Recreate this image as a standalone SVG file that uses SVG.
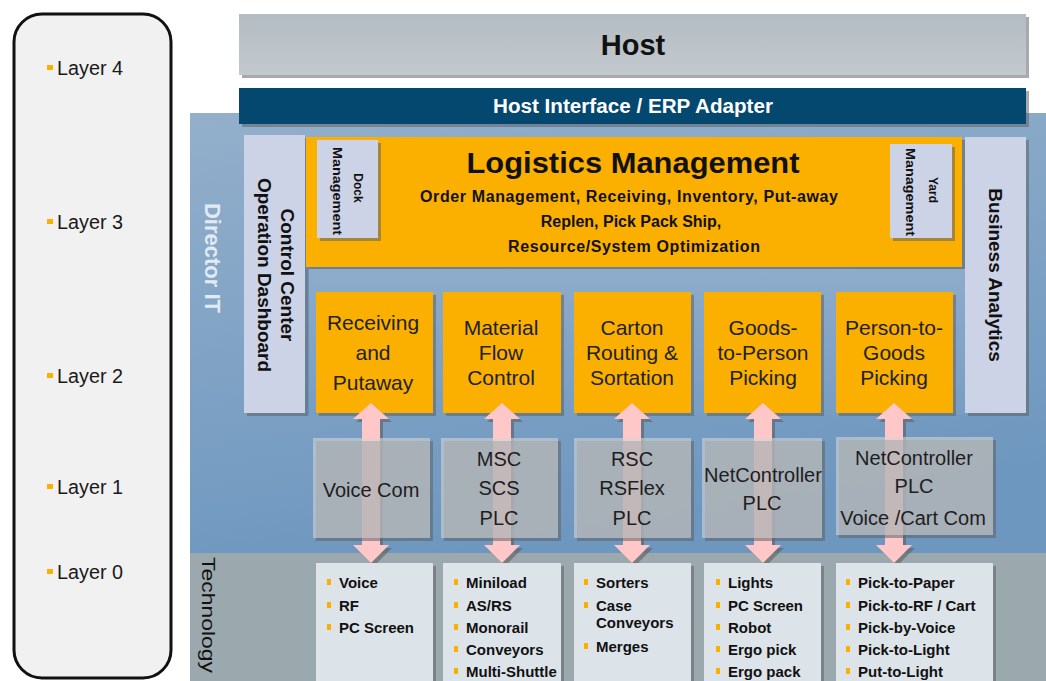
<svg xmlns="http://www.w3.org/2000/svg" width="1046" height="681" viewBox="0 0 1046 681">
<defs>
<linearGradient id="gHost" x1="0" y1="0" x2="0" y2="1"><stop offset="0" stop-color="#b3bcc2"/><stop offset="1" stop-color="#c3c9ce"/></linearGradient>
<linearGradient id="gBlue" x1="0" y1="0" x2="0.3" y2="1"><stop offset="0" stop-color="#93afcb"/><stop offset="1" stop-color="#6e97bf"/></linearGradient>
<linearGradient id="gPanel" x1="0" y1="0" x2="0" y2="1"><stop offset="0" stop-color="#8eabca"/><stop offset="1" stop-color="#789dc3"/></linearGradient>
</defs>
<style>
text{font-family:"Liberation Sans",Arial,Helvetica,sans-serif;}
.sh{fill:#5e6266;opacity:.55;}
.orange{fill:#fbb000;}
.lav{fill:#cdd3e6;}
.gbox{fill:#d4d4d4;opacity:.6;}
.tbox{fill:#dde4e9;}
.arrow{fill:#ffc7c7;}
.ash{fill:#5a5a5a;opacity:.55;}
.bul{fill:#fbb000;}
.lyr{font-size:20px;fill:#1a1a1a;}
.ot{font-size:21px;fill:#222;text-anchor:middle;}
.gt{font-size:20px;fill:#1e1e1e;text-anchor:middle;}
.tt{font-size:15px;font-weight:bold;fill:#111;}
.sub{font-size:16px;font-weight:bold;fill:#111;text-anchor:middle;}
.rot{font-weight:bold;fill:#111;text-anchor:middle;}
</style>

<g id="layers">
<rect x="14" y="14" width="157" height="664" rx="28" ry="28" fill="#f1f1f1" stroke="#111" stroke-width="3"/>
<rect class="bul" x="47" y="65" width="6" height="5"/><text class="lyr" x="57" y="75" textLength="66" lengthAdjust="spacingAndGlyphs">Layer 4</text>
<rect class="bul" x="47" y="219" width="6" height="5"/><text class="lyr" x="57" y="229" textLength="66" lengthAdjust="spacingAndGlyphs">Layer 3</text>
<rect class="bul" x="47" y="373" width="6" height="5"/><text class="lyr" x="57" y="383" textLength="66" lengthAdjust="spacingAndGlyphs">Layer 2</text>
<rect class="bul" x="47" y="484" width="6" height="5"/><text class="lyr" x="57" y="494" textLength="66" lengthAdjust="spacingAndGlyphs">Layer 1</text>
<rect class="bul" x="47" y="569" width="6" height="5"/><text class="lyr" x="57" y="579" textLength="66" lengthAdjust="spacingAndGlyphs">Layer 0</text>
</g>

<g id="director-it">
<rect x="190" y="113" width="856" height="441" fill="url(#gBlue)"/>
<text transform="translate(205,258) rotate(90)" font-size="22" font-weight="bold" fill="#e2eaf4" text-anchor="middle">Director IT</text>
</g>

<g id="technology">
<rect x="190" y="553" width="856" height="128" fill="#9ba8ae"/>
<text transform="translate(202,615) rotate(90)" font-size="18" fill="#111" text-anchor="middle" textLength="116" lengthAdjust="spacingAndGlyphs">Technology</text>
</g>

<g id="host">
<rect class="sh" x="242" y="17" width="787" height="61"/>
<rect x="239" y="14" width="787" height="61" fill="url(#gHost)"/>
<text x="633" y="55" font-size="29" font-weight="bold" fill="#111" text-anchor="middle">Host</text>
</g>

<g id="host-interface">
<rect class="sh" x="242" y="91" width="787" height="36"/>
<rect x="239" y="88" width="787" height="36" fill="#04486f"/>
<text x="633" y="113" font-size="20" font-weight="bold" fill="#fff" text-anchor="middle" textLength="280" lengthAdjust="spacingAndGlyphs">Host Interface / ERP Adapter</text>
</g>

<g id="control-center">
<rect class="sh" x="247" y="138" width="61" height="278"/>
<rect class="lav" x="244" y="135" width="61" height="278"/>
<text class="rot" font-size="19" transform="translate(281,275) rotate(90)">Control Center</text>
<text class="rot" font-size="19" transform="translate(258,275) rotate(90)">Operation Dashboard</text>
</g>

<g id="business-analytics">
<rect class="sh" x="968" y="140" width="61" height="276"/>
<rect class="lav" x="965" y="137" width="61" height="276"/>
<text class="rot" font-size="19" transform="translate(989,275) rotate(90)">Business Analytics</text>
</g>

<g id="logistics-management">
<rect class="sh" x="309" y="140" width="656" height="130"/>
<rect class="orange" x="306" y="137" width="656" height="130"/>
<text x="633" y="173" font-size="30" font-weight="bold" fill="#111" text-anchor="middle" textLength="333" lengthAdjust="spacingAndGlyphs">Logistics Management</text>
<text class="sub" x="629" y="202" textLength="418" lengthAdjust="spacing">Order Management,  Receiving,  Inventory,  Put-away</text>
<text class="sub" x="631" y="227">Replen,  Pick Pack  Ship,</text>
<text class="sub" x="634" y="252" textLength="252" lengthAdjust="spacing">Resource/System  Optimization</text>
</g>

<g id="inner-panel">
<rect x="306" y="267" width="659" height="148" fill="#5f7f9f" opacity=".5"/>
<rect x="309" y="269" width="656" height="146" fill="url(#gPanel)"/>
</g>

<g id="dock-management">
<rect class="sh" x="320" y="143" width="61" height="98"/>
<rect class="lav" x="317" y="140" width="61" height="98"/>
<text class="rot" font-size="12" transform="translate(354,188) rotate(90)">Dock</text>
<text class="rot" font-size="12" transform="translate(333,191) rotate(90)" textLength="88" lengthAdjust="spacingAndGlyphs">Management</text>
</g>

<g id="yard-management">
<rect class="sh" x="893" y="147" width="62" height="94"/>
<rect class="lav" x="890" y="144" width="62" height="94"/>
<text class="rot" font-size="12" transform="translate(929,190) rotate(90)">Yard</text>
<text class="rot" font-size="12" transform="translate(906,192) rotate(90)" textLength="88" lengthAdjust="spacingAndGlyphs">Management</text>
</g>

<g id="receiving-putaway">
<rect class="sh" x="319" y="295" width="117" height="121"/>
<rect class="orange" x="316" y="292" width="117" height="121"/>
<text class="ot" x="373" y="330">Receiving</text>
<text class="ot" x="373" y="360">and</text>
<text class="ot" x="373" y="390">Putaway</text>
</g>
<g id="material-flow-control">
<rect class="sh" x="446" y="295" width="118" height="121"/>
<rect class="orange" x="443" y="292" width="118" height="121"/>
<text class="ot" x="501" y="335">Material</text>
<text class="ot" x="501" y="360">Flow</text>
<text class="ot" x="501" y="385">Control</text>
</g>
<g id="carton-routing">
<rect class="sh" x="577" y="295" width="117" height="121"/>
<rect class="orange" x="574" y="292" width="117" height="121"/>
<text class="ot" x="632" y="335">Carton</text>
<text class="ot" x="632" y="360">Routing &amp;</text>
<text class="ot" x="632" y="385">Sortation</text>
</g>
<g id="goods-to-person">
<rect class="sh" x="707" y="295" width="117" height="121"/>
<rect class="orange" x="704" y="292" width="117" height="121"/>
<text class="ot" x="763" y="335">Goods-</text>
<text class="ot" x="763" y="360">to-Person</text>
<text class="ot" x="763" y="385">Picking</text>
</g>
<g id="person-to-goods">
<rect class="sh" x="839" y="295" width="117" height="121"/>
<rect class="orange" x="836" y="292" width="117" height="121"/>
<text class="ot" x="894" y="335">Person-to-</text>
<text class="ot" x="894" y="360">Goods</text>
<text class="ot" x="894" y="385">Picking</text>
</g>

<g id="connectors">
<path class="ash" transform="translate(374,406)" d="M0,0 L18,16 L9,16 L9,142 L18,142 L0,160 L-18,142 L-9,142 L-9,16 L-18,16 Z"/>
<path class="arrow" transform="translate(371,403)" d="M0,0 L18,16 L9,16 L9,142 L18,142 L0,160 L-18,142 L-9,142 L-9,16 L-18,16 Z"/>
<path class="ash" transform="translate(505,406)" d="M0,0 L18,16 L9,16 L9,142 L18,142 L0,160 L-18,142 L-9,142 L-9,16 L-18,16 Z"/>
<path class="arrow" transform="translate(502,403)" d="M0,0 L18,16 L9,16 L9,142 L18,142 L0,160 L-18,142 L-9,142 L-9,16 L-18,16 Z"/>
<path class="ash" transform="translate(635,406)" d="M0,0 L18,16 L9,16 L9,142 L18,142 L0,160 L-18,142 L-9,142 L-9,16 L-18,16 Z"/>
<path class="arrow" transform="translate(632,403)" d="M0,0 L18,16 L9,16 L9,142 L18,142 L0,160 L-18,142 L-9,142 L-9,16 L-18,16 Z"/>
<path class="ash" transform="translate(766,406)" d="M0,0 L18,16 L9,16 L9,142 L18,142 L0,160 L-18,142 L-9,142 L-9,16 L-18,16 Z"/>
<path class="arrow" transform="translate(763,403)" d="M0,0 L18,16 L9,16 L9,142 L18,142 L0,160 L-18,142 L-9,142 L-9,16 L-18,16 Z"/>
<path class="ash" transform="translate(897,406)" d="M0,0 L18,16 L9,16 L9,142 L18,142 L0,160 L-18,142 L-9,142 L-9,16 L-18,16 Z"/>
<path class="arrow" transform="translate(894,403)" d="M0,0 L18,16 L9,16 L9,142 L18,142 L0,160 L-18,142 L-9,142 L-9,16 L-18,16 Z"/>
</g>

<g id="voice-com">
<rect class="sh" x="316" y="441" width="117" height="100" opacity=".25"/>
<rect class="gbox" x="313" y="438" width="117" height="100"/>
<text class="gt" x="371" y="497">Voice Com</text>
</g>
<g id="msc-scs-plc">
<rect class="sh" x="444" y="441" width="117" height="100" opacity=".25"/>
<rect class="gbox" x="441" y="438" width="117" height="100"/>
<text class="gt" x="499" y="466">MSC</text>
<text class="gt" x="499" y="495">SCS</text>
<text class="gt" x="499" y="525">PLC</text>
</g>
<g id="rsc-rsflex-plc">
<rect class="sh" x="577" y="441" width="117" height="100" opacity=".25"/>
<rect class="gbox" x="574" y="438" width="117" height="100"/>
<text class="gt" x="632" y="466">RSC</text>
<text class="gt" x="632" y="495">RSFlex</text>
<text class="gt" x="632" y="525">PLC</text>
</g>
<g id="netcontroller-plc">
<rect class="sh" x="705" y="441" width="120" height="100" opacity=".25"/>
<rect class="gbox" x="702" y="438" width="120" height="100"/>
<text class="gt" x="763" y="482">NetController</text>
<text class="gt" x="762" y="510">PLC</text>
</g>
<g id="netcontroller-voice-cart">
<rect class="sh" x="839" y="440" width="157" height="98" opacity=".25"/>
<rect class="gbox" x="836" y="437" width="157" height="98"/>
<text class="gt" x="914" y="465">NetController</text>
<text class="gt" x="914" y="493">PLC</text>
<text class="gt" x="913" y="525">Voice /Cart Com</text>
</g>

<g id="tech-voice">
<rect class="sh" x="319" y="566" width="117" height="120"/>
<rect class="tbox" x="316" y="563" width="117" height="120"/>
<rect class="bul" x="327" y="579" width="4" height="6"/><text class="tt" x="339" y="588">Voice</text>
<rect class="bul" x="327" y="602" width="4" height="6"/><text class="tt" x="339" y="611">RF</text>
<rect class="bul" x="327" y="624" width="4" height="6"/><text class="tt" x="339" y="633">PC Screen</text>
</g>
<g id="tech-storage">
<rect class="sh" x="446" y="566" width="118" height="120"/>
<rect class="tbox" x="443" y="563" width="118" height="120"/>
<rect class="bul" x="454" y="579" width="4" height="6"/><text class="tt" x="466" y="588">Miniload</text>
<rect class="bul" x="454" y="602" width="4" height="6"/><text class="tt" x="466" y="611">AS/RS</text>
<rect class="bul" x="454" y="624" width="4" height="6"/><text class="tt" x="466" y="633">Monorail</text>
<rect class="bul" x="454" y="646" width="4" height="6"/><text class="tt" x="466" y="655">Conveyors</text>
<rect class="bul" x="454" y="668" width="4" height="6"/><text class="tt" x="466" y="677">Multi-Shuttle</text>
</g>
<g id="tech-sorters">
<rect class="sh" x="577" y="566" width="117" height="120"/>
<rect class="tbox" x="574" y="563" width="117" height="120"/>
<rect class="bul" x="584" y="579" width="4" height="6"/><text class="tt" x="596" y="588">Sorters</text>
<rect class="bul" x="584" y="602" width="4" height="6"/><text class="tt" x="596" y="611">Case</text>
<text class="tt" x="596" y="628">Conveyors</text>
<rect class="bul" x="584" y="643" width="4" height="6"/><text class="tt" x="596" y="652">Merges</text>
</g>
<g id="tech-lights">
<rect class="sh" x="707" y="566" width="117" height="120"/>
<rect class="tbox" x="704" y="563" width="117" height="120"/>
<rect class="bul" x="716" y="579" width="4" height="6"/><text class="tt" x="728" y="588">Lights</text>
<rect class="bul" x="716" y="602" width="4" height="6"/><text class="tt" x="728" y="611">PC Screen</text>
<rect class="bul" x="716" y="624" width="4" height="6"/><text class="tt" x="728" y="633">Robot</text>
<rect class="bul" x="716" y="646" width="4" height="6"/><text class="tt" x="728" y="655">Ergo pick</text>
<rect class="bul" x="716" y="668" width="4" height="6"/><text class="tt" x="728" y="677">Ergo pack</text>
</g>
<g id="tech-picking">
<rect class="sh" x="839" y="566" width="157" height="120"/>
<rect class="tbox" x="836" y="563" width="157" height="120"/>
<rect class="bul" x="846" y="579" width="4" height="6"/><text class="tt" x="858" y="588">Pick-to-Paper</text>
<rect class="bul" x="846" y="602" width="4" height="6"/><text class="tt" x="858" y="611">Pick-to-RF / Cart</text>
<rect class="bul" x="846" y="624" width="4" height="6"/><text class="tt" x="858" y="633">Pick-by-Voice</text>
<rect class="bul" x="846" y="646" width="4" height="6"/><text class="tt" x="858" y="655">Pick-to-Light</text>
<rect class="bul" x="846" y="668" width="4" height="6"/><text class="tt" x="858" y="677">Put-to-Light</text>
</g>
</svg>
